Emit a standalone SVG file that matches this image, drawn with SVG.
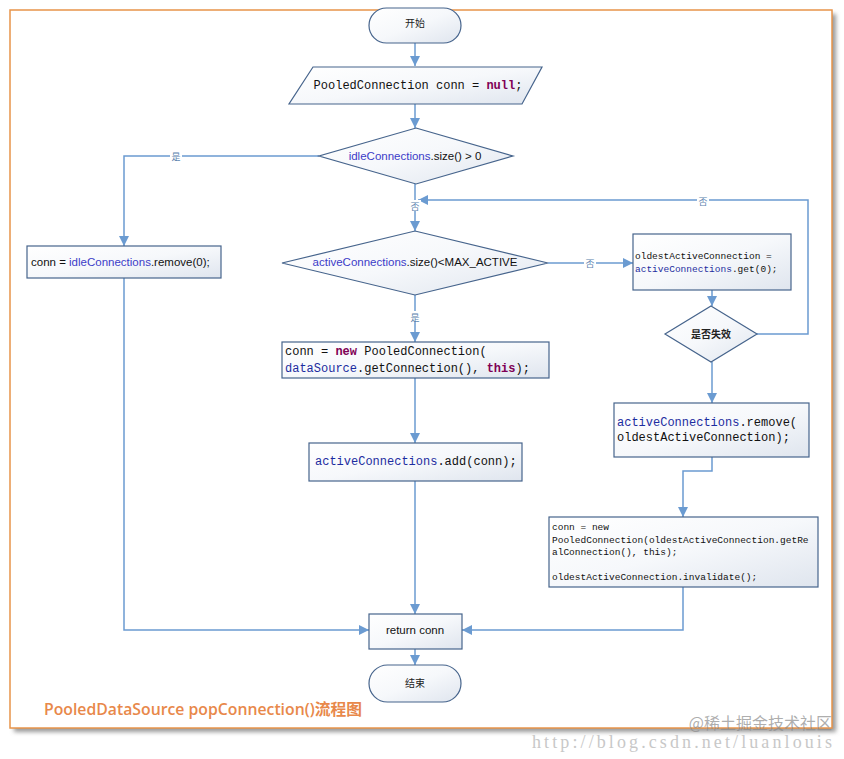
<svg xmlns="http://www.w3.org/2000/svg" width="844" height="759" viewBox="0 0 844 759">
<defs>
<linearGradient id="g" x1="0" y1="0" x2="1" y2="1">
<stop offset="0" stop-color="#ffffff"/>
<stop offset="0.5" stop-color="#f6f8fb"/>
<stop offset="1" stop-color="#dfe5ee"/>
</linearGradient>
<filter id="sh" x="-5%" y="-5%" width="110%" height="110%">
<feGaussianBlur stdDeviation="2"/>
</filter>
<marker id="ah" viewBox="0 0 10 10" refX="10" refY="5" markerWidth="10" markerHeight="10" markerUnits="userSpaceOnUse" orient="auto">
<path d="M0,0 L10,5 L0,10 z" fill="#6b9bd1"/>
</marker>
<style>
.nd{fill:url(#g);stroke:#46648c;stroke-width:1.2}
.cn{fill:none;stroke:#6b9bd1;stroke-width:1.5}
.ar{marker-end:url(#ah)}
.sans{font-family:"Liberation Sans","Noto Sans CJK SC",sans-serif;font-size:11.5px;fill:#111}
.cjk{font-family:"Noto Sans CJK SC",sans-serif;font-size:10px;fill:#222}
.mono{font-family:"Liberation Mono",monospace;fill:#111}
.m12{font-size:12px}
.m9{font-size:9.5px}
.id{fill:#3c3cc8}
.idm{fill:#1c2ca0}
.kw{fill:#7f0055;font-weight:bold}
.lbl{font-family:"Noto Sans CJK SC",sans-serif;font-size:9px;fill:#5a7fae}
.lb{fill:#ffffff}
</style>
</defs>
<rect width="844" height="759" fill="#ffffff"/>
<rect x="14" y="14" width="822" height="718" fill="#9a9a9a" filter="url(#sh)"/>
<rect x="10" y="10" width="822" height="718" fill="#ffffff" stroke="#e8944a" stroke-width="1.5"/>

<g id="connectors">
<path class="cn ar" d="M415,43 L415,66"/>
<path class="cn ar" d="M415,104 L415,128"/>
<path class="cn ar" d="M319,156 L124,156 L124,246"/>
<path class="cn ar" d="M124,278 L124,630 L369,630"/>
<path class="cn ar" d="M415,184 L415,231"/>
<path class="cn ar" d="M757,334 L808,334 L808,200 L418,200"/>
<path class="cn ar" d="M548,263 L633,263"/>
<path class="cn ar" d="M712,290 L712,306"/>
<path class="cn ar" d="M712,362 L712,403"/>
<path class="cn ar" d="M712,457 L712,471 L683,471 L683,517"/>
<path class="cn ar" d="M683,587 L683,630 L462,630"/>
<path class="cn ar" d="M415,295 L415,342"/>
<path class="cn ar" d="M415,378 L415,443"/>
<path class="cn ar" d="M415,481 L415,614"/>
<path class="cn ar" d="M415,649 L415,665"/>
<rect class="lb" x="170" y="150" width="12" height="11"/>
<text class="lbl" x="176" y="159.5" text-anchor="middle">是</text>
<rect class="lb" x="409" y="200" width="12" height="11"/>
<text class="lbl" x="415" y="209.5" text-anchor="middle">否</text>
<rect class="lb" x="697" y="195" width="12" height="11"/>
<text class="lbl" x="703" y="204.5" text-anchor="middle">否</text>
<rect class="lb" x="584" y="257" width="12" height="11"/>
<text class="lbl" x="590" y="266.5" text-anchor="middle">否</text>
<rect class="lb" x="409" y="311" width="12" height="11"/>
<text class="lbl" x="415" y="320.5" text-anchor="middle">是</text>
</g>

<g id="start">
<rect class="nd" x="369" y="8" width="92" height="35" rx="17.5"/>
<text class="cjk" x="415" y="27" text-anchor="middle">开始</text>
</g>

<g id="init">
<polygon class="nd" points="313,67 542,67 522,104 289,104"/>
<text class="mono m12" x="418" y="89" text-anchor="middle">PooledConnection conn = <tspan class="kw">null</tspan>;</text>
</g>

<g id="idleCheck">
<polygon class="nd" points="416,128 513,156 416,184 319,156"/>
<text class="sans" x="415" y="160" text-anchor="middle"><tspan class="id">idleConnections</tspan>.size() &gt; 0</text>
</g>

<g id="idleRemove">
<rect class="nd" x="27" y="246" width="194" height="32"/>
<text class="sans" x="31" y="266" font-size="12">conn = <tspan class="id">idleConnections</tspan>.remove(0);</text>
</g>

<g id="activeCheck">
<polygon class="nd" points="415,231 548,263 415,295 282,263"/>
<text class="sans" x="415" y="266" text-anchor="middle"><tspan class="id">activeConnections</tspan>.size()&lt;MAX_ACTIVE</text>
</g>

<g id="newConn">
<rect class="nd" x="282" y="342" width="267" height="36"/>
<text class="mono m12" x="285" y="355">conn = <tspan class="kw">new</tspan> PooledConnection(</text>
<text class="mono m12" x="285" y="372"><tspan class="idm">dataSource</tspan>.getConnection(), <tspan class="kw">this</tspan>);</text>
</g>

<g id="addActive">
<rect class="nd" x="309" y="443" width="213" height="38"/>
<text class="mono m12" x="315" y="465"><tspan class="idm">activeConnections</tspan>.add(conn);</text>
</g>

<g id="getOldest">
<rect class="nd" x="633" y="234" width="158" height="56"/>
<text class="mono m9" x="635" y="259">oldestActiveConnection =</text>
<text class="mono m9" x="635" y="272"><tspan class="idm">activeConnections</tspan>.get(0);</text>
</g>

<g id="expiredCheck">
<polygon class="nd" points="711,306 757,334 711,362 665,334"/>
<text class="cjk" x="711" y="338" text-anchor="middle" font-weight="bold">是否失效</text>
</g>

<g id="removeOldest">
<rect class="nd" x="614" y="403" width="195" height="54"/>
<text class="mono m12" x="617" y="426"><tspan class="idm">activeConnections</tspan>.remove(</text>
<text class="mono m12" x="617" y="441">oldestActiveConnection);</text>
</g>

<g id="reuseConn">
<rect class="nd" x="549" y="517" width="269" height="70"/>
<text class="mono m9" x="552" y="530">conn = new</text>
<text class="mono m9" x="552" y="543">PooledConnection(oldestActiveConnection.getRe</text>
<text class="mono m9" x="552" y="555">alConnection(), this);</text>
<text class="mono m9" x="552" y="580">oldestActiveConnection.invalidate();</text>
</g>

<g id="returnConn">
<rect class="nd" x="369" y="614" width="93" height="35"/>
<text class="sans" x="415" y="634" text-anchor="middle" font-size="9.5" fill="#333">return  conn</text>
</g>

<g id="end">
<rect class="nd" x="369" y="665" width="92" height="37" rx="18.5"/>
<text class="cjk" x="415" y="687" text-anchor="middle">结束</text>
</g>

<text x="44" y="715" font-family="'Open Sans','Noto Sans CJK SC',sans-serif" font-size="15.5" font-weight="600" fill="#e8884a" textLength="318" lengthAdjust="spacingAndGlyphs">PooledDataSource popConnection()流程图</text>
<text x="832" y="729" text-anchor="end" font-family="'Noto Sans CJK SC',sans-serif" font-size="16" fill="#8a8a8a" fill-opacity="0.7">@稀土掘金技术社区</text>
<text x="832" y="748" text-anchor="end" font-family="'Liberation Serif',serif" font-size="18" fill="#c8c8c8" textLength="300">http://blog.csdn.net/luanlouis</text>
</svg>
